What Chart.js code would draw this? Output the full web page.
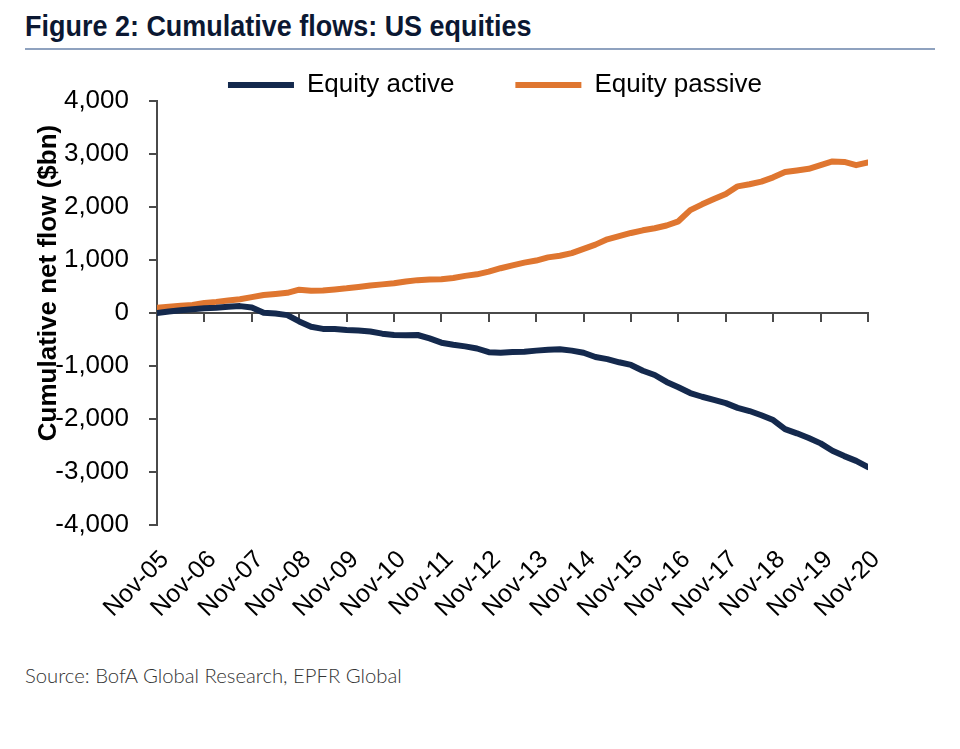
<!DOCTYPE html>
<html>
<head>
<meta charset="utf-8">
<script src="https://cdn.jsdelivr.net/npm/chart.js@4"></script>
<style>
  body { margin: 0; background: #fff; width: 960px; height: 749px; position: relative; overflow: hidden; }
  #title { position: absolute; left: 25px; top: 10px; font: bold 29px "Liberation Sans", Arial, sans-serif; color: #0b1832; white-space: nowrap; transform: scaleX(0.93); transform-origin: 0 0; }
  #rule { position: absolute; left: 25px; top: 48px; width: 910px; height: 2px; background: #8fa2bf; }
  #box { position: absolute; left: 0; top: 60px; width: 960px; height: 600px; }
  #source { position: absolute; left: 25px; top: 663px; font: 300 20.3px Lato, "Open Sans", sans-serif; color: #333; white-space: nowrap; }
</style>
</head>
<body>
<div id="title">Figure 2: Cumulative flows: US equities</div>
<div id="rule"></div>
<div id="box"><canvas id="chart"></canvas></div>
<div id="source">Source: BofA Global Research, EPFR Global</div>
<script>
// months since Nov-05, quarterly
const months = [0, 3, 6, 9, 12, 15, 18, 21, 24, 27, 30, 33, 36, 39, 42, 45, 48, 51, 54, 57,
  60, 63, 66, 69, 72, 75, 78, 81, 84, 87, 90, 93, 96, 99, 102, 105, 108, 111, 114, 117,
  120, 123, 126, 129, 132, 135, 138, 141, 144, 147, 150, 153, 156, 159, 162, 165, 168, 171, 174, 177, 180];

const equityActive = [0, 30, 50, 70, 88, 100, 120, 130, 105, 5, -10, -40, -160, -260, -300, -300,
  -320, -330, -350, -390, -415, -420, -415, -480, -560, -600, -630, -670, -740, -750, -735, -730,
  -710, -695, -685, -710, -750, -830, -870, -930, -980, -1090, -1170, -1300, -1400, -1510, -1580,
  -1640, -1700, -1790, -1850, -1930, -2020, -2190, -2270, -2360, -2460, -2600, -2700, -2790, -2910];

const equityPassive = [100, 120, 135, 150, 190, 210, 235, 260, 300, 340, 360, 380, 440, 420, 425, 445,
  465, 490, 520, 540, 560, 595, 620, 630, 635, 660, 700, 730, 780, 845, 900, 950,
  990, 1050, 1080, 1130, 1210, 1290, 1390, 1450, 1510, 1560, 1600, 1650, 1730, 1940, 2050,
  2150, 2245, 2390, 2430, 2480, 2560, 2660, 2690, 2720, 2790, 2860, 2850, 2790, 2840];

const tickLabels = ['Nov-05', 'Nov-06', 'Nov-07', 'Nov-08', 'Nov-09', 'Nov-10', 'Nov-11', 'Nov-12',
  'Nov-13', 'Nov-14', 'Nov-15', 'Nov-16', 'Nov-17', 'Nov-18', 'Nov-19', 'Nov-20'];

const NAVY = '#14294d';
const ORANGE = '#df7630';
const AXIS = '#4a4a4a';
const LEGEND_PAD = 61;

const toPoints = (vals) => vals.map((v, i) => ({ x: months[i], y: v }));

// y title sits over the tick labels, as in the original
const yTitle = {
  id: 'yTitle',
  afterDraw(chart) {
    const ctx = chart.ctx;
    ctx.save();
    ctx.translate(49, 223);
    ctx.rotate(-Math.PI / 2);
    ctx.font = 'bold 26px "Liberation Sans", Arial, sans-serif';
    ctx.fillStyle = '#000';
    ctx.textAlign = 'center';
    ctx.textBaseline = 'middle';
    ctx.fillText('Cumulative net flow ($bn)', 0, 0);
    ctx.restore();
  }
};

// nudge the legend so it sits where the original has it
const legendSpot = {
  id: 'legendSpot',
  afterLayout(chart) {
    const lg = chart.legend;
    lg.left = 122;
    lg.right = 868;
    lg.width = lg.right - lg.left;
    lg.top = 12 - LEGEND_PAD;
    lg.bottom = lg.top + lg.height;
  }
};

new Chart(document.getElementById('chart'), {
  type: 'line',
  data: {
    datasets: [
      { label: 'Equity active', data: toPoints(equityActive), borderColor: NAVY, backgroundColor: NAVY, borderWidth: 6 },
      { label: 'Equity passive', data: toPoints(equityPassive), borderColor: ORANGE, backgroundColor: ORANGE, borderWidth: 6 },
    ],
  },
  options: {
    responsive: true,
    maintainAspectRatio: false,
    animation: false,
    layout: { padding: { left: 0, right: 92, top: 5 - LEGEND_PAD, bottom: 0 } },
    elements: {
      point: { radius: 0 },
      line: { borderCapStyle: 'round', borderJoinStyle: 'round', tension: 0 },
    },
    plugins: {
      tooltip: { enabled: false },
      legend: {
        position: 'top',
        labels: {
          usePointStyle: true,
          pointStyle: 'line',
          pointStyleWidth: 66,
          padding: LEGEND_PAD,
          color: '#000',
          font: { family: '"Liberation Sans", Arial, sans-serif', size: 26 },
        },
      },
    },
    scales: {
      x: {
        type: 'linear',
        position: 'bottom',
        min: 0,
        max: 180,
        afterFit: (s) => { s.height = 135; },
        grid: { display: false },
        border: { display: false },
        ticks: {
          stepSize: 12,
          autoSkip: false,
          maxRotation: 45,
          minRotation: 45,
          padding: 12,
          labelOffset: 8,
          color: '#000',
          font: { family: '"Liberation Sans", Arial, sans-serif', size: 25 },
          callback: (v) => tickLabels[v / 12],
        },
      },
      x0: {
        type: 'linear',
        position: { y: 0 },
        min: 0,
        max: 180,
        grid: { drawOnChartArea: false, drawTicks: true, tickLength: 8, color: AXIS, lineWidth: 2 },
        border: { display: true, color: AXIS, width: 2 },
        ticks: { stepSize: 12, display: false, autoSkip: false },
      },
      y: {
        min: -4000,
        max: 4000,
        afterFit: (s) => { s.width = 157; },
        grid: { drawOnChartArea: false, drawTicks: true, tickLength: 8, color: AXIS, lineWidth: 2 },
        border: { display: true, color: AXIS, width: 2 },
        ticks: {
          stepSize: 1000,
          padding: 20,
          color: '#000',
          font: { family: '"Liberation Sans", Arial, sans-serif', size: 26 },
          callback: (v) => v.toLocaleString('en-US'),
        },
      },
    },
  },
  plugins: [yTitle, legendSpot],
});
</script>
</body>
</html>
